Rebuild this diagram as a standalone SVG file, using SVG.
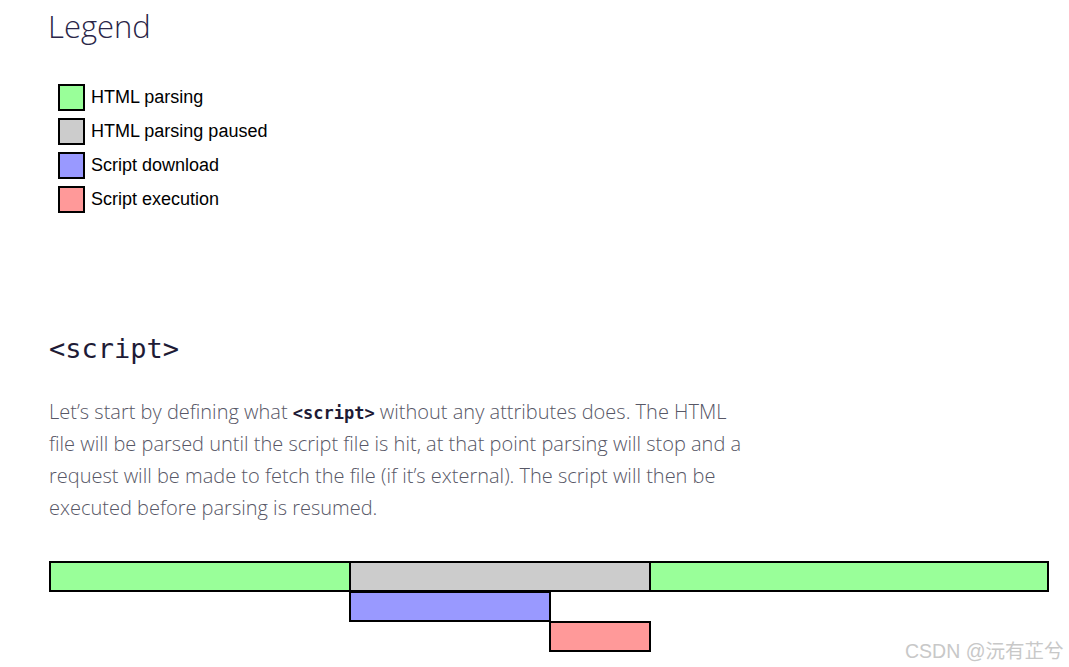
<svg xmlns="http://www.w3.org/2000/svg" width="1069" height="667" viewBox="0 0 1069 667">
<style>
.box{stroke:#000;stroke-width:2}
.parse{fill:#99ff99}
.paused{fill:#cccccc}
.dl{fill:#9999ff}
.exec{fill:#ff9999}
.leg{font-family:"Liberation Sans",Arial,sans-serif;font-size:18px;fill:#000}
.h{font-family:"Open Sans",sans-serif;font-weight:300;fill:#2a2648}
.p{font-family:"Open Sans",sans-serif;font-weight:300;font-size:20px;fill:#575766}
.code{font-family:"DejaVu Sans Mono",monospace}
</style>
<rect width="1069" height="667" fill="#fff"/>
<text class="h" x="48" y="38" font-size="31">Legend</text>
<g id="legend-parsing"><rect class="box parse" x="59" y="85" width="25" height="25"/><text class="leg" x="91" y="103">HTML parsing</text></g>
<g id="legend-paused"><rect class="box paused" x="59" y="119" width="25" height="25"/><text class="leg" x="91" y="137">HTML parsing paused</text></g>
<g id="legend-download"><rect class="box dl" x="59" y="153" width="25" height="25"/><text class="leg" x="91" y="171">Script download</text></g>
<g id="legend-exec"><rect class="box exec" x="59" y="187" width="25" height="25"/><text class="leg" x="91" y="205">Script execution</text></g>
<text class="code" x="49" y="358" font-size="27" fill="#1e1b36">&lt;script&gt;</text>
<text class="p" x="49" y="419">Let’s start by defining what <tspan class="code" font-size="17" font-weight="bold" fill="#1e1b36">&lt;script&gt;</tspan> without any attributes does. The HTML</text>
<text class="p" x="49" y="451">file will be parsed until the script file is hit, at that point parsing will stop and a</text>
<text class="p" x="49" y="483">request will be made to fetch the file (if it’s external). The script will then be</text>
<text class="p" x="49" y="515">executed before parsing is resumed.</text>
<g id="timeline">
<g id="parse1"><rect class="box parse" x="50" y="562" width="300" height="29"/></g>
<g id="paused"><rect class="box paused" x="350" y="562" width="300" height="29"/></g>
<g id="parse2"><rect class="box parse" x="650" y="562" width="398" height="29"/></g>
<g id="download"><rect class="box dl" x="350" y="592" width="200" height="29"/></g>
<g id="execute"><rect class="box exec" x="550" y="622" width="100" height="29"/></g>
</g>
<g id="connectors"></g>
<text x="905" y="658" font-family="'Liberation Sans','Noto Sans CJK SC',sans-serif" font-size="19.5" fill="#c8c8c8">CSDN @沅有芷兮</text>
</svg>
